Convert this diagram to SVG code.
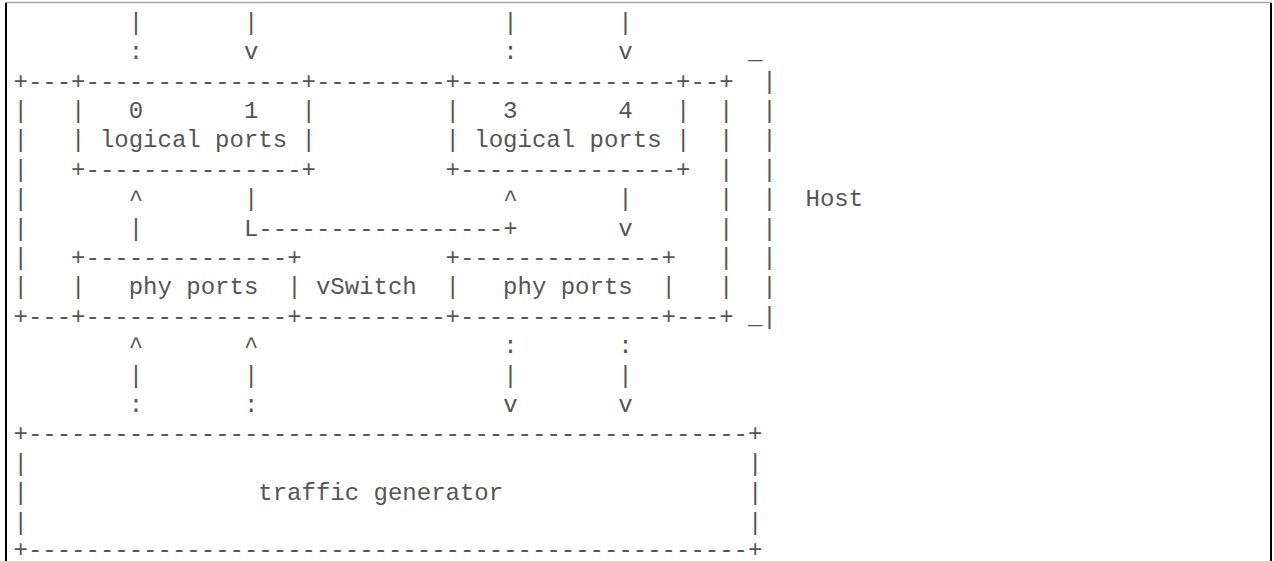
<svg xmlns="http://www.w3.org/2000/svg" width="1274" height="561" viewBox="0 0 1274 561" xml:space="preserve">
<style>
text{font-family:"Liberation Mono","DejaVu Sans Mono",monospace;font-size:24px;fill:#555;white-space:pre}
.frame-top{stroke:#a6a6a6;stroke-width:1.5}
.frame-side{stroke:#000;stroke-width:2}
</style>
<rect x="0" y="0" width="1274" height="561" fill="#fff"/>
<g id="frame">
<line class="frame-top" x1="5" y1="2.5" x2="1272" y2="2.5"/>
<line class="frame-side" x1="6" y1="3" x2="6" y2="561"/>
<line class="frame-side" x1="1271" y1="3" x2="1271" y2="561"/>
</g>
<g id="vswitch">
<text x="13.5" y="88.5">+---+---------------+---------+---------------+--+</text>
<text x="13.5" y="117.9">|</text><text x="719.1" y="117.9">|</text>
<text x="13.5" y="147.3">|</text><text x="719.1" y="147.3">|</text>
<text x="13.5" y="176.7">|</text><text x="719.1" y="176.7">|</text>
<text x="13.5" y="206.1">|</text><text x="719.1" y="206.1">|</text>
<text x="13.5" y="235.5">|</text><text x="719.1" y="235.5">|</text>
<text x="13.5" y="264.9">|</text><text x="719.1" y="264.9">|</text>
<text x="13.5" y="294.3">|</text><text x="719.1" y="294.3">|</text>
<text x="315.9" y="294.3">vSwitch</text>
<text x="13.5" y="323.7">+---+--------------+----------+--------------+---+</text>
</g>
<g id="logical-ports-left">
<text x="71.1" y="117.9">|   0       1   |</text>
<text x="71.1" y="147.3">| logical ports |</text>
<text x="71.1" y="176.7">+---------------+</text>
</g>
<g id="logical-ports-right">
<text x="445.5" y="117.9">|   3       4   |</text>
<text x="445.5" y="147.3">| logical ports |</text>
<text x="445.5" y="176.7">+---------------+</text>
</g>
<g id="phy-ports-left">
<text x="71.1" y="264.9">+--------------+</text>
<text x="71.1" y="294.3">|   phy ports  |</text>
</g>
<g id="phy-ports-right">
<text x="445.5" y="264.9">+--------------+</text>
<text x="445.5" y="294.3">|   phy ports  |</text>
</g>
<g id="host">
<text x="747.9" y="59.1">_</text>
<text x="762.3" y="88.5">|</text>
<text x="762.3" y="117.9">|</text>
<text x="762.3" y="147.3">|</text>
<text x="762.3" y="176.7">|</text>
<text x="762.3" y="206.1">|</text>
<text x="805.5" y="206.1">Host</text>
<text x="762.3" y="235.5">|</text>
<text x="762.3" y="264.9">|</text>
<text x="762.3" y="294.3">|</text>
<text x="747.9" y="323.7">_|</text>
</g>
<g id="traffic-generator">
<text x="13.5" y="441.3">+--------------------------------------------------+</text>
<text x="13.5" y="470.7">|</text><text x="747.9" y="470.7">|</text>
<text x="13.5" y="500.1">|</text><text x="258.3" y="500.1">traffic generator</text><text x="747.9" y="500.1">|</text>
<text x="13.5" y="529.5">|</text><text x="747.9" y="529.5">|</text>
<text x="13.5" y="556.5">+--------------------------------------------------+</text>
</g>
<g id="connectors">
<text x="128.7" y="29.7">|       |                 |       |</text>
<text x="128.7" y="59.1">:       v                 :       v</text>
<text x="128.7" y="206.1">^       |                 ^       |</text>
<text x="128.7" y="235.5">|       L-----------------+       v</text>
<text x="128.7" y="353.1">^       ^                 :       :</text>
<text x="128.7" y="382.5">|       |                 |       |</text>
<text x="128.7" y="411.9">:       :                 v       v</text>
</g>
</svg>
